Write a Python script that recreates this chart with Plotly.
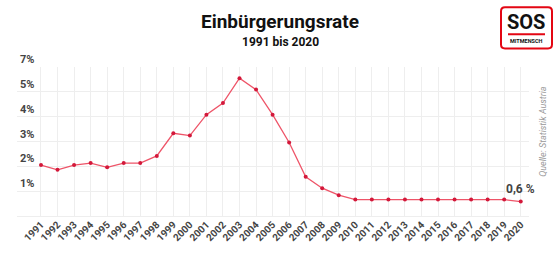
import plotly.graph_objects as go

years = list(range(1991, 2021))
rate = [2.05, 1.86, 2.05, 2.13, 1.96, 2.13, 2.13, 2.42, 3.33, 3.24,
        4.08, 4.55, 5.55, 5.09, 4.08, 2.96, 1.58, 1.12, 0.84, 0.66,
        0.66, 0.66, 0.66, 0.66, 0.66, 0.66, 0.66, 0.66, 0.66, 0.58]
y_tickvals = [1, 2, 3, 4, 5, 6]
y_ticktext = ["1%", "2%", "3%", "4%", "5%", "7%"]
x_ticktext = [str(y) for y in years]
title = "Einbürgerungsrate"
subtitle = "1991 bis 2020"
source = "Quelle: Statistik Austria"
last_label = "0,6 %"

FONT = "Roboto"
GREY = "#444444"

fig = go.Figure()
fig.add_trace(go.Scatter(
    x=years, y=rate, mode="lines+markers",
    line=dict(color="#ee5468", width=1.3),
    marker=dict(color="#d3183a", size=4),
    hoverinfo="x+y", showlegend=False,
))

pw, ph = 560 - 17 - 31, 255 - 67 - 36
def px(x):
    return (x - 17) / pw
def py(y):
    return (255 - 36 - y) / ph

fig.update_layout(
    width=560, height=255,
    margin=dict(l=17, r=31, t=67, b=36),
    paper_bgcolor="white", plot_bgcolor="white",
    font=dict(family=FONT, color=GREY),
    xaxis=dict(
        range=[1989.55, 2020.5], tickvals=years, ticktext=x_ticktext,
        tickangle=-45, showgrid=True, gridcolor="#eeeeee", gridwidth=1,
        zeroline=False, showline=False, ticks="",
        tickfont=dict(family=FONT, size=10, color=GREY, weight="bold"),
    ),
    yaxis=dict(
        range=[0, 6], tickvals=y_tickvals, ticktext=y_ticktext,
        showgrid=True, gridcolor="#eeeeee", gridwidth=1,
        zeroline=True, zerolinecolor="#eeeeee", zerolinewidth=1,
        showline=False, ticks="",
        ticklabelposition="inside top", ticklabeloverflow="allow",
        tickfont=dict(family=FONT, size=11, color=GREY, weight="bold"),
    ),
    annotations=[
        dict(text=title, x=px(280), y=py(21), xref="paper", yref="paper",
             showarrow=False, xanchor="center", yanchor="middle",
             font=dict(family=FONT, size=19, color="#111111", weight="bold")),
        dict(text=subtitle, x=px(280), y=py(42), xref="paper", yref="paper",
             showarrow=False, xanchor="center", yanchor="middle",
             font=dict(family=FONT, size=12, color="#111111", weight="bold")),
        dict(text=source, x=px(543), y=py(133), xref="paper", yref="paper",
             showarrow=False, textangle=-90, xanchor="center", yanchor="middle",
             font=dict(family=FONT, size=9, color="#999999", style="italic")),
        dict(text=last_label, x=years[-1], y=rate[-1], xref="x", yref="y",
             showarrow=False, xanchor="center", yanchor="bottom", yshift=4,
             font=dict(family=FONT, size=12, color=GREY, weight="bold")),
        dict(text="SOS", x=px(526), y=py(21), xref="paper", yref="paper",
             showarrow=False, xanchor="center", yanchor="middle",
             font=dict(family=FONT, size=20, color="#111111", weight="bold")),
        dict(text="MITMENSCH", x=px(526), y=py(40), xref="paper", yref="paper",
             showarrow=False, xanchor="center", yanchor="middle",
             font=dict(family=FONT, size=5.5, color="#111111", weight="bold")),
    ],
)

fig.add_shape(type="path", xref="paper", yref="paper",
              path=(f"M {px(505)} {py(6)} L {px(548)} {py(6)} "
                    f"Q {px(552)} {py(6)} {px(552)} {py(10)} "
                    f"L {px(552)} {py(44)} Q {px(552)} {py(48)} {px(548)} {py(48)} "
                    f"L {px(505)} {py(48)} Q {px(501)} {py(48)} {px(501)} {py(44)} "
                    f"L {px(501)} {py(10)} Q {px(501)} {py(6)} {px(505)} {py(6)} Z"),
              line=dict(color="#e30613", width=2), fillcolor="white")
fig.add_shape(type="line", xref="paper", yref="paper",
              x0=px(508), x1=px(545), y0=py(33.5), y1=py(33.5),
              line=dict(color="#e30613", width=2))

fig.write_html("out.html")
